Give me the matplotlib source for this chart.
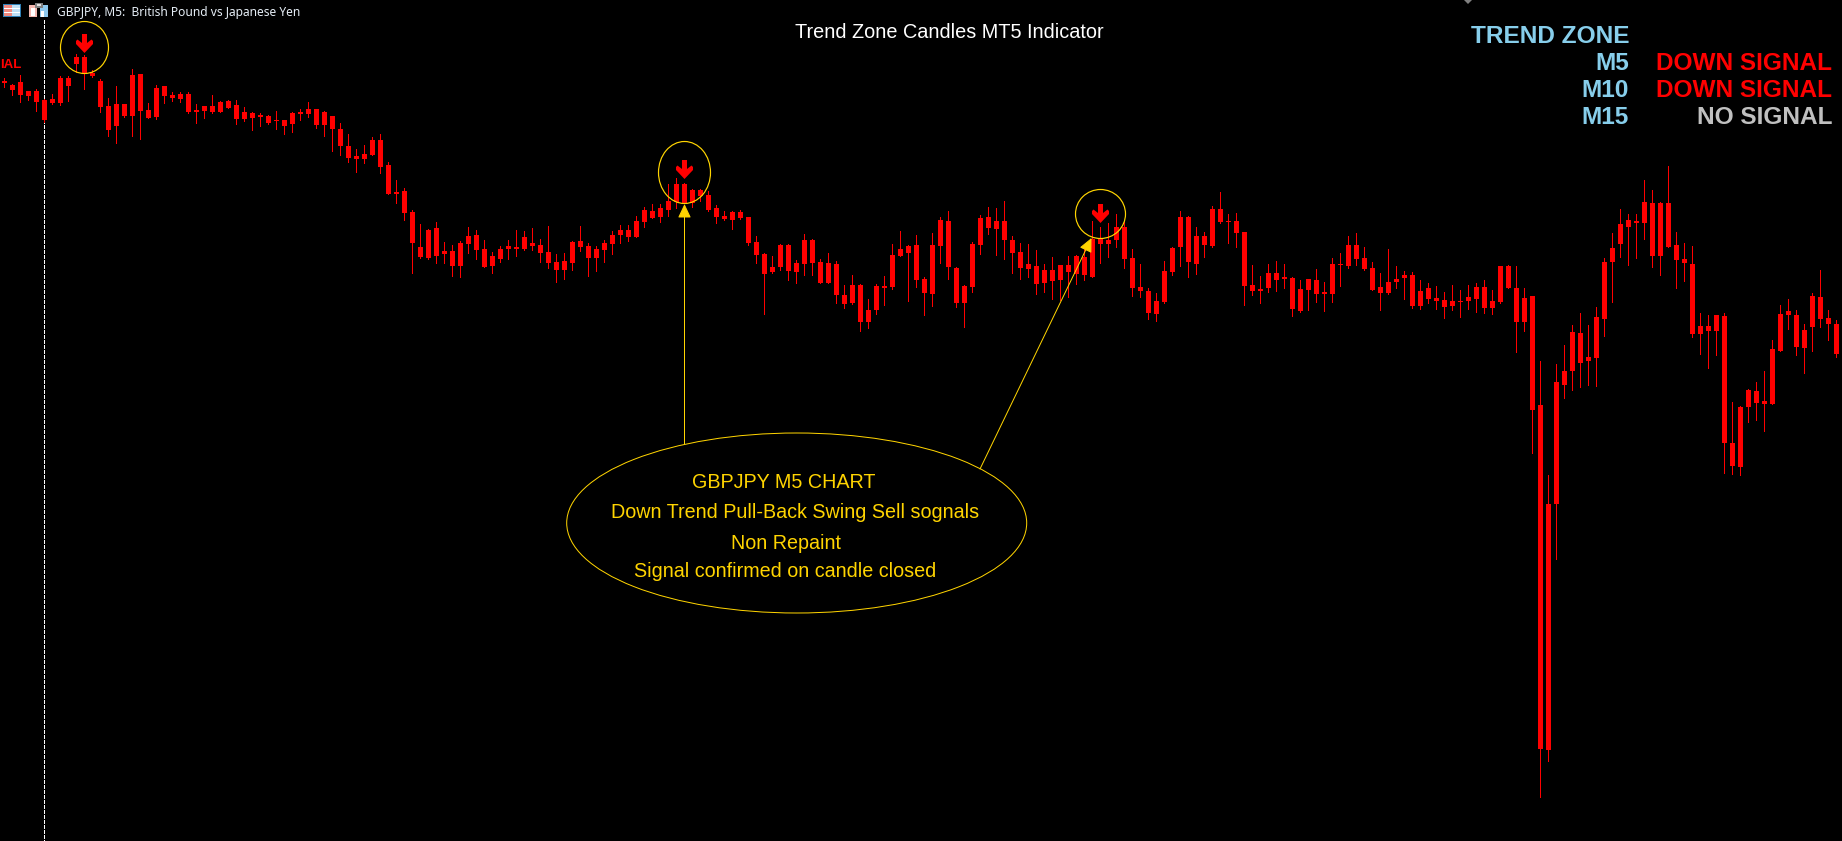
import matplotlib
matplotlib.use("Agg")
import matplotlib.pyplot as plt
import numpy as np
from matplotlib.patches import Ellipse, Rectangle, Polygon
from matplotlib.path import Path

# Candle levels (chart rows, larger = lower price)
highs = [78,84,75,91,89,99,94,76,76,54,
 55,70,79,98,86,104,69,74,103,85,
 86,92,92,92,104,106,95,101,100,100,
 107,112,113,115,111,120,112,109,102,109,
 111,116,123,134,149,145,137,134,162,180,
 188,210,224,229,222,242,245,241,227,230,
 240,252,246,240,230,231,228,239,226,254,
 253,241,226,243,246,240,231,225,225,216,
 207,204,204,184,178,183,189,189,191,205,
 211,211,210,217,236,253,256,244,244,260,
 234,239,259,253,261,285,275,284,299,284,
 276,244,231,245,235,277,233,217,211,267,
 285,242,215,207,208,201,236,243,244,250,
 264,257,265,256,255,249,221,227,223,214,
 222,249,264,288,293,261,247,211,216,227,
 232,206,192,214,213,232,265,276,264,261,
 264,277,280,279,269,282,258,253,236,233,
 247,262,273,249,266,271,272,280,283,286,
 292,285,290,285,283,280,290,266,265,266,
 288,296,361,475,364,345,325,313,325,307,
 258,233,209,214,214,180,190,202,166,232,
 243,246,313,315,315,313,402,406,389,382,
 371,340,305,299,310,324,293,270,310,320]
body_tops = [81,85,82,91,91,100,99,78,78,57,
 57,73,81,106,104,104,75,74,110,88,
 86,95,94,94,110,106,106,102,101,105,
 112,113,115,116,120,120,113,112,109,109,
 112,116,129,146,156,154,140,140,165,192,
 191,212,247,230,228,251,251,243,236,235,
 249,256,249,246,247,237,243,245,252,262,
 261,242,241,246,249,243,235,230,230,221,
 210,211,208,201,184,184,190,190,195,208,
 216,212,212,217,242,254,267,245,245,263,
 240,240,262,263,264,295,285,285,310,286,
 286,255,249,246,245,279,245,220,221,268,
 286,244,218,217,221,221,240,252,264,266,
 270,270,265,265,256,257,239,239,240,227,
 227,258,287,291,301,271,248,217,217,236,
 236,209,209,221,221,232,285,289,273,273,
 277,278,289,279,280,292,264,264,245,245,
 258,268,287,282,279,275,275,291,288,298,
 300,301,301,297,287,287,301,266,266,288,
 298,296,405,504,382,371,332,333,357,317,
 262,248,224,220,221,202,203,203,203,245,
 259,264,326,326,315,316,443,407,390,391,
 401,349,314,311,315,330,296,297,318,324]
body_bottoms = [83,90,95,96,102,120,103,103,86,64,
 73,76,107,130,126,116,116,111,118,117,
 96,98,99,112,112,111,112,112,108,119,
 119,118,117,123,121,126,124,114,114,125,
 125,129,146,158,159,159,155,167,194,194,
 213,243,257,258,256,254,266,266,244,250,
 267,266,259,249,249,249,246,253,263,270,
 270,263,247,258,258,250,244,235,237,237,
 222,218,217,210,202,203,203,196,210,217,
 219,220,218,243,255,274,272,267,271,272,
 264,263,283,283,295,304,303,322,322,310,
 288,287,256,253,280,293,294,246,267,303,
 303,287,245,228,229,240,253,268,269,284,
 283,281,280,272,274,275,277,244,244,240,
 259,288,291,313,314,302,272,247,262,264,
 245,246,222,222,233,286,291,291,288,280,
 279,309,311,290,294,294,294,265,266,259,
 269,290,293,293,282,278,306,306,299,301,
 307,306,302,301,299,308,308,302,288,322,
 322,410,749,750,504,385,371,363,361,358,
 319,262,244,227,223,223,256,256,247,260,
 263,334,334,331,331,443,466,467,407,403,
 404,404,351,315,347,348,327,319,324,354]
lows = [87,95,102,100,111,122,104,105,101,72,
 89,77,112,136,143,117,136,139,118,119,
 103,101,102,113,123,118,113,112,108,124,
 121,130,126,124,129,134,132,120,117,128,
 136,151,155,162,172,163,155,173,194,203,
 220,273,258,259,263,263,276,277,253,259,
 267,273,262,259,256,250,250,262,268,282,
 279,270,251,276,271,262,254,243,241,237,
 227,218,222,216,208,203,207,201,211,223,
 220,229,219,245,263,314,273,270,280,283,
 275,275,283,283,303,308,304,331,328,314,
 305,289,256,301,287,315,306,263,279,307,
 327,292,254,234,255,259,273,279,277,294,
 292,299,300,297,284,280,277,263,257,247,
 268,296,297,319,321,303,275,266,277,274,
 257,247,223,243,247,305,295,303,292,291,
 288,316,312,310,302,311,302,286,268,265,
 270,290,310,294,288,299,308,309,303,309,
 318,310,317,309,312,313,314,303,288,352,
 331,453,797,761,559,398,390,387,385,386,
 336,302,257,265,258,239,267,275,247,288,
 281,337,354,368,355,473,474,475,422,420,
 431,404,351,329,355,373,351,327,340,357]

signal_bars = [10, 85, 137]
signal_levels = [42.5, 168.5, 213.0]
session_bar = 5

panel_labels = ["M5", "M10", "M15"]
panel_states = ["DOWN SIGNAL", "DOWN SIGNAL", "NO SIGNAL"]
note_lines = ["GBPJPY M5 CHART", "Down Trend Pull-Back Swing Sell sognals",
              "Non Repaint", "Signal confirmed on candle closed"]

W, H = 1842, 841
RED, GOLD, SKY, SILVER = "#FF0000", "#FFD400", "#87CEEB", "#C0C0C0"
SANS = "Liberation Sans"
PX = 0.72  # one pixel in points at dpi 100

fig = plt.figure(figsize=(W / 100, H / 100), dpi=100, facecolor="black")
ax = fig.add_axes([0, 0, 1, 1], facecolor="black")
STEP, X0 = 8.0, 4.5
ax.set_xlim(-X0 / STEP, (W - X0) / STEP)
ax.set_ylim(H, 0)
ax.axis("off")

def px(x):
    """Screen column to bar-axis position, for annotations only."""
    return (x - X0) / STEP

x = np.arange(len(highs))
hi, lo = np.array(highs, float), np.array(lows, float)
top, bot = np.array(body_tops, float), np.array(body_bottoms, float)
SNAP = 0.5 / STEP  # keeps one-pixel lines on the bar's centre column

# session separator
ax.vlines(session_bar - SNAP, 20, H, colors="white", linewidth=PX,
          linestyles=(0, (3, 2)), antialiased=False, zorder=1)

# candles
ax.vlines(x - SNAP, hi, lo, colors=RED, linewidth=PX, antialiased=False, zorder=2)
ax.bar(x, bot - top, bottom=top, width=5 / STEP, color=RED, linewidth=0,
       antialiased=False, zorder=3)

# signal arrows
arrow_v = np.array([(-2.5, 9.5), (2.5, 9.5), (2.5, 0.5), (7, 4), (8.5, 2.5), (8.5, -0.5),
                    (0, -9.5), (-8.5, -0.5), (-8.5, 2.5), (-7, 4), (-2.5, 0.5), (-2.5, 9.5)])
arrow_marker = Path(arrow_v, closed=True)
ax.plot(np.array(signal_bars) - 2 * SNAP, signal_levels, linestyle="none", marker=arrow_marker,
        markersize=19 * PX, markerfacecolor=RED, markeredgewidth=0, zorder=5)

# highlight circles
for cx, cy, w, h in [(84.5, 47.5, 48, 52), (684.5, 172.5, 52, 62), (1100.5, 214, 50, 49)]:
    ax.add_patch(Ellipse((px(cx), cy), w / STEP, h, fill=False, edgecolor=GOLD,
                         linewidth=1.2 * PX, zorder=6))
# note ellipse
ax.add_patch(Ellipse((px(796.7), 523), 460 / STEP, 180, fill=False, edgecolor=GOLD,
                     linewidth=PX, zorder=6))

# callout arrows
for start, tip in [((684.5, 444), (684.5, 204)), ((980, 469), (1091.5, 238))]:
    ax.annotate("", xy=(px(tip[0]), tip[1]), xytext=(px(start[0]), start[1]),
                arrowprops=dict(arrowstyle="-|>,head_length=0.85,head_width=0.4", color=GOLD,
                                lw=PX, shrinkA=0, shrinkB=0, mutation_scale=10),
                zorder=7)

# note text
note_x = [784, 795, 786, 785]
note_y = [487.5, 518, 549, 577]
for line, nx, ny in zip(note_lines, note_x, note_y):
    ax.text(px(nx), ny, line, color=GOLD, fontsize=14.2, family=SANS,
            ha="center", va="baseline", zorder=8)

# title
ax.text(px(949), 37.5, "Trend Zone Candles MT5 Indicator", color="white", fontsize=14.3,
        family=SANS, ha="center", va="baseline", zorder=8)

# status panel
FS = 17.6
ax.text(px(1629), 43, "TREND ZONE", color=SKY, fontsize=FS, fontweight="bold", family=SANS,
        ha="right", va="baseline", zorder=8)
for lab, st, y in zip(panel_labels, panel_states, [70, 97, 124]):
    ax.text(px(1629), y, lab, color=SKY, fontsize=FS, fontweight="bold", family=SANS,
            ha="right", va="baseline", zorder=8)
    ax.text(px(1832), y, st, color=RED if st.startswith("DOWN") else SILVER, fontsize=FS,
            fontweight="bold", family=SANS, ha="right", va="baseline", zorder=8)

# visible end of the panel copy at the left edge
ax.text(px(21), 67.5, "IAL", color=RED, fontsize=9.5, fontweight="bold", family=SANS,
        ha="right", va="baseline", zorder=8)

# window caption
ax.text(px(56.5), 16, "GBPJPY, M5:  British Pound vs Japanese Yen", color="#E6EEF6",
        fontsize=8.6, family="Noto Sans", ha="left", va="baseline", zorder=8)

# caption icons
def box(x0, y0, w, h, c, z=8):
    ax.add_patch(Rectangle((px(x0), y0), w / STEP, h, facecolor=c, edgecolor="none", zorder=z))

box(3, 4, 18, 13, "#2F7FB5")
box(4, 5, 8, 11, "#F08A80")
box(12, 5, 8, 11, "#BFE0F5")
for yy in (8, 11.5):
    box(4, yy, 16, 1, "#FFFFFF", 9)
box(29, 5, 8, 12, "#F4B8B0")
box(31, 8, 4, 8, "#FFFFFF", 9)
box(40, 5, 8, 12, "#8EC8EE")
box(41, 11, 3, 6, "#FFFFFF", 9)
box(35, 3, 8, 5, "#808080", 9)
box(37, 4, 4, 2, "#E0E0E0", 10)

# small collapse mark at the top edge
ax.add_patch(Polygon([(px(1464), 0), (px(1472), 0), (px(1468), 4)], closed=True,
                     facecolor="#808080", edgecolor="none", zorder=8))

fig.savefig("out.png", dpi=100, facecolor="black")
